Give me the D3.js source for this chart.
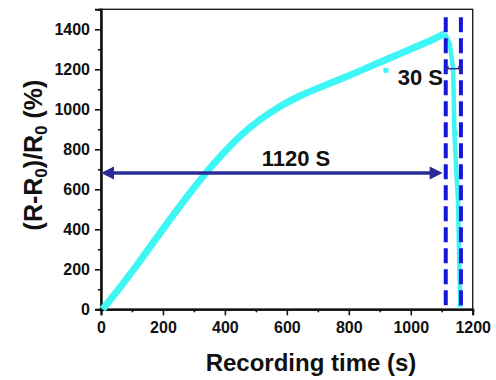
<!DOCTYPE html>
<html><head><meta charset="utf-8">
<script src="https://cdn.jsdelivr.net/npm/d3@7"></script>
<style>
html,body{margin:0;padding:0;background:#fff;}
svg{display:block;font-family:Arial,"Liberation Sans",sans-serif;font-weight:bold;}
</style></head>
<body><svg id="c" width="496" height="380"></svg>
<script>
// ---- data ----
const riseTime  = [5, 30, 61, 115, 169, 223, 277, 341, 384, 449, 513, 578, 642, 707, 772, 836, 900, 965, 1018, 1070, 1110];
const riseValue = [0, 48, 108, 218, 335, 450, 563, 688, 763, 870, 950, 1017, 1068, 1110, 1150, 1192, 1235, 1278, 1313, 1347, 1378];
const fallTime  = [1110, 1126, 1137, 1141, 1147, 1153, 1156, 1160];
const fallValue = [1378, 1328, 1195, 880, 695, 528, 278, 10];
const outlierTime  = [920, 1144];
const outlierValue = [1195, 880];
const xTicks = [0, 200, 400, 600, 800, 1000, 1200];
const yTicks = [0, 200, 400, 600, 800, 1000, 1200, 1400];
const xMinor = [100, 300, 500, 700, 900, 1100];
const yMinor = [100, 300, 500, 700, 900, 1100, 1300, 1500];
const dashedTimes = [1113, 1162];
const spanArrow = {from: 0, to: 1103, value: 681, label: "1120 S"};
const shortArrow = {from: 1113, to: 1162, value: 1193, label: "30 S"};

// ---- layout ----
const svg = d3.select("#c");
const L = 101, R = 472.7, T = 9.3, B = 309.3;
const x = d3.scaleLinear().domain([0, 1200]).range([L, R]);
const y = d3.scaleLinear().domain([0, 1500]).range([B, T]);
const ink = "#111";
const navy = "#2b2b98";
const cyan = "#3ef6f6";

// frame
svg.append("rect").attr("x", L).attr("y", T).attr("width", R - L).attr("height", B - T)
  .attr("fill", "none").attr("stroke", "#222").attr("stroke-width", 1.4);

// axes
const xa = svg.append("g").attr("transform", `translate(0,${B})`)
  .call(d3.axisBottom(x).tickValues(xTicks).tickSize(6).tickPadding(6).tickFormat(d3.format("d")));
const xm = svg.append("g").attr("transform", `translate(0,${B})`)
  .call(d3.axisBottom(x).tickValues(xMinor).tickSize(3).tickFormat(""));
const ya = svg.append("g").attr("transform", `translate(${L},0)`)
  .call(d3.axisLeft(y).tickValues(yTicks).tickSize(6).tickPadding(5).tickFormat(d3.format("d")));
const ym = svg.append("g").attr("transform", `translate(${L},0)`)
  .call(d3.axisLeft(y).tickValues(yMinor).tickSize(3).tickFormat(""));
[xa, xm, ya, ym].forEach(g => {
  g.select(".domain").attr("stroke", ink).attr("stroke-width", 2);
  g.selectAll(".tick line").attr("stroke", ink).attr("stroke-width", 1.6);
  g.selectAll(".tick text").attr("fill", ink).attr("font-size", 16).attr("font-weight", "bold")
    .attr("font-family", "Arial, 'Liberation Sans', sans-serif");
});

// curve
const line = d3.line().x(d => x(d[0])).y(d => y(d[1])).curve(d3.curveBasis);
const rise = riseTime.map((t, i) => [t, riseValue[i]]);
const fall = fallTime.map((t, i) => [t, fallValue[i]]);
svg.append("path").datum(rise).attr("d", line).attr("fill", "none")
  .attr("stroke", cyan).attr("stroke-width", 7).attr("stroke-linejoin", "round");
svg.append("path").datum(fall).attr("d", d3.line().x(d => x(d[0])).y(d => y(d[1])))
  .attr("fill", "none").attr("stroke", cyan).attr("stroke-width", 4.5).attr("stroke-linejoin", "round");
svg.selectAll("rect.out").data(outlierTime.map((t, i) => [t, outlierValue[i]])).enter()
  .append("rect").attr("class", "out")
  .attr("x", d => x(d[0]) - 2.5).attr("y", d => y(d[1]) - 2.5).attr("width", 5).attr("height", 5)
  .attr("fill", cyan);

// dashed verticals
svg.selectAll("line.dv").data(dashedTimes).enter().append("line").attr("class", "dv")
  .attr("x1", d => x(d)).attr("x2", d => x(d)).attr("y1", T + 8).attr("y2", B)
  .attr("stroke", "#1616d8").attr("stroke-width", 4).attr("stroke-dasharray", "15,6");

// long arrow
function head(xTip, yy, dir, len, hw) {
  return `M${xTip},${yy} L${xTip - dir * len},${yy - hw} L${xTip - dir * len},${yy + hw} Z`;
}
const ay = y(spanArrow.value);
svg.append("line").attr("x1", x(spanArrow.from) + 8).attr("x2", x(spanArrow.to) - 8)
  .attr("y1", ay).attr("y2", ay).attr("stroke", navy).attr("stroke-width", 3.5);
svg.append("path").attr("d", head(x(spanArrow.from), ay, -1, 13, 6.5)).attr("fill", navy);
svg.append("path").attr("d", head(x(spanArrow.to), ay, 1, 13, 6.5)).attr("fill", navy);
svg.append("text").attr("x", 296).attr("y", ay - 7).attr("text-anchor", "middle")
  .attr("font-size", 22).attr("fill", ink).text(spanArrow.label);

// short arrow
const sy = y(shortArrow.value) - 2;
svg.append("line").attr("x1", x(shortArrow.from)).attr("x2", x(shortArrow.to))
  .attr("y1", sy).attr("y2", sy).attr("stroke", navy).attr("stroke-width", 1.5);
svg.append("path").attr("d", `M${x(shortArrow.from) + 3},${sy - 2} L${x(shortArrow.from)},${sy} L${x(shortArrow.from)},${sy + 4}`)
  .attr("fill", "none").attr("stroke", navy).attr("stroke-width", 1.5);
svg.append("path").attr("d", `M${x(shortArrow.to) - 3},${sy - 2} L${x(shortArrow.to)},${sy} L${x(shortArrow.to)},${sy + 4}`)
  .attr("fill", "none").attr("stroke", navy).attr("stroke-width", 1.5);
svg.append("text").attr("x", 443).attr("y", 85).attr("text-anchor", "end")
  .attr("font-size", 22).attr("fill", ink).text(shortArrow.label);

// axis titles
svg.append("text").attr("x", 311).attr("y", 371).attr("text-anchor", "middle")
  .attr("font-size", 24).attr("fill", ink).text("Recording time (s)");
const yl = svg.append("text").attr("transform", "translate(42,155) rotate(-90)")
  .attr("text-anchor", "middle").attr("font-size", 25).attr("fill", ink);
yl.append("tspan").text("(R-R");
yl.append("tspan").attr("font-size", 17).attr("dy", 5).text("0");
yl.append("tspan").attr("dy", -5).text(")/R");
yl.append("tspan").attr("font-size", 17).attr("dy", 5).text("0");
yl.append("tspan").attr("dy", -5).text(" (%)");
</script></body></html>
